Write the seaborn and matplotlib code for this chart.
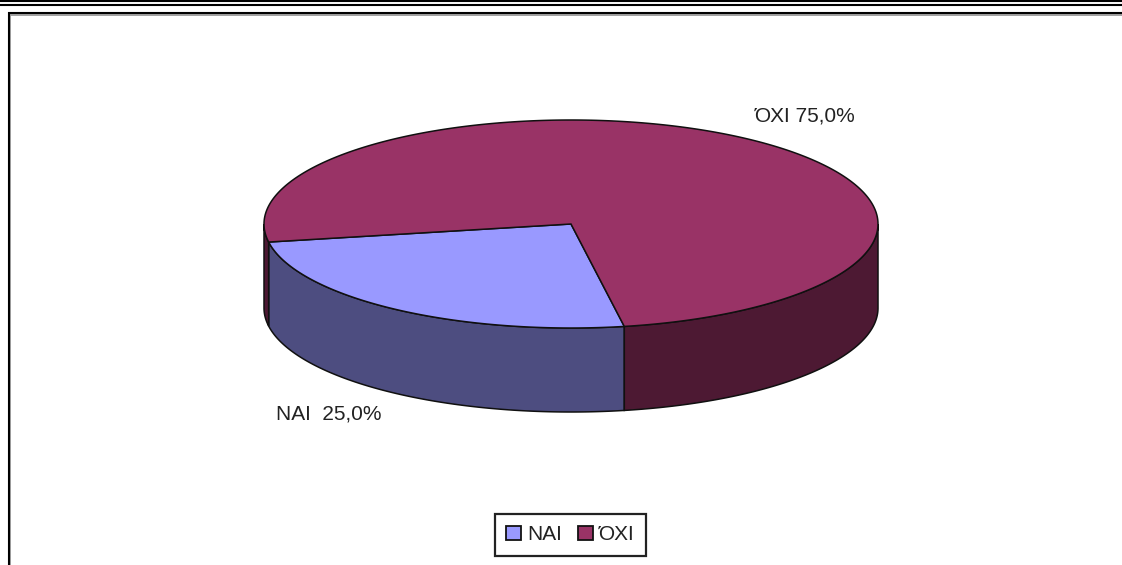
import numpy as np
import pandas as pd
import matplotlib
matplotlib.use("Agg")
import matplotlib.pyplot as plt
from matplotlib.patches import Polygon, Patch
import seaborn as sns

categories = ["ΝΑΙ", "ΌΧΙ"]
shares = [25.0, 75.0]
slice_labels = ["ΝΑΙ  25,0%", "ΌΧΙ 75,0%"]
top_colors = ["#9999FF", "#993366"]
side_colors = ["#4D4D80", "#4D1933"]

W, H = 1122, 565
sns.set_theme(style="white")
plt.rcParams["font.family"] = ["Liberation Sans", "DejaVu Sans"]
fig = plt.figure(figsize=(W / 100, H / 100), dpi=100)
ax = fig.add_axes([0, 0, 1, 1])
ax.set_xlim(0, W)
ax.set_ylim(H, 0)
ax.axis("off")

# page rules and chart frame
ax.plot([0, W], [1, 1], color="black", lw=1.5)
ax.plot([0, W], [5, 5], color="black", lw=1.5)
ax.plot([10.5, 10.5, W + 5], [H + 5, 14.5, 14.5], color="#a0a0a0", lw=1.4, solid_joinstyle="miter")
ax.plot([9, 9, W + 5], [H + 5, 13, 13], color="black", lw=1.5, solid_joinstyle="miter")

# pie geometry
cx, cy, a, b, depth = 571, 224, 307, 104, 84
start = 80.0
edge = "#101010"


def pt(t, dy=0.0):
    t = np.radians(t)
    return np.column_stack([cx + a * np.cos(t), cy + b * np.sin(t) + dy])


def wall(t0, t1, color):
    ts = np.linspace(t0, t1, 200)
    ax.add_patch(Polygon(np.vstack([pt(ts), pt(ts[::-1], depth)]), closed=True,
                         fc=color, ec=edge, lw=1.1, zorder=2))


spans = np.array(shares) / sum(shares) * 360
t_a, t_b = start, start + spans[0]
wall(t_a, t_b, side_colors[0])
wall(t_b, 180, side_colors[1])
wall(0, t_a, side_colors[1])

t0 = start
for span, col in zip(spans, top_colors):
    ts = np.linspace(t0, t0 + span, 400)
    ax.add_patch(Polygon(np.vstack([[cx, cy], pt(ts)]), closed=True,
                         fc=col, ec=edge, lw=1.1, zorder=3))
    t0 += span

# labels
fs = 15.0
ax.text(276, 414, slice_labels[0], fontsize=fs, color="#222222", ha="left", va="center")
ax.text(755, 116, slice_labels[1], fontsize=fs, color="#222222", ha="left", va="center")

# legend
handles = [Patch(fc=c, ec="#111111", lw=1.3, label=l) for c, l in zip(top_colors, categories)]
leg = ax.legend(handles=handles, loc="center", bbox_to_anchor=(570.5, 535), bbox_transform=ax.transData,
                ncol=2, frameon=True, fancybox=False, fontsize=fs, handlelength=0.68, handleheight=0.68,
                handletextpad=0.3, columnspacing=0.8, borderpad=0.55, labelcolor="#222222")
leg.get_frame().set_edgecolor("#222222")
leg.get_frame().set_linewidth(1.6)
leg.get_frame().set_facecolor("white")
leg.get_frame().set_alpha(1)

fig.savefig("out.png", dpi=100)
